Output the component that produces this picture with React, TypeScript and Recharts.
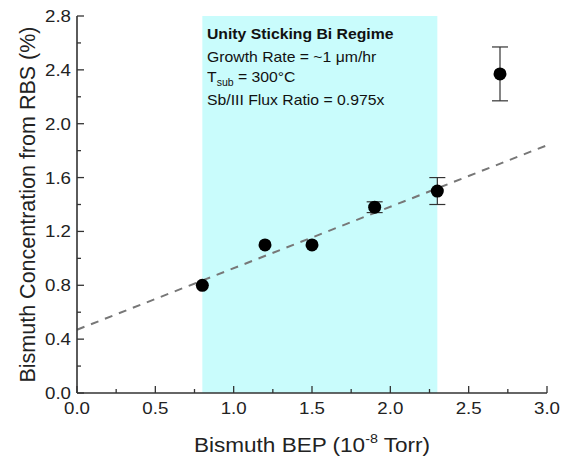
import React from "react";
import {
  ComposedChart,
  Scatter,
  ErrorBar,
  XAxis,
  YAxis,
  ReferenceArea,
  ReferenceLine,
} from "recharts";

const BEP = [0.8, 1.2, 1.5, 1.9, 2.3, 2.7];
const BI_CONC = [0.8, 1.1, 1.1, 1.38, 1.5, 2.37];
const BI_ERR = [0, 0, 0, 0.04, 0.1, 0.2];

const FIT_X = [0, 3];
const FIT_Y = [0.47, 1.84];

const UNITY_REGIME = [0.8, 2.3];

const X_TICKS = [0, 0.25, 0.5, 0.75, 1, 1.25, 1.5, 1.75, 2, 2.25, 2.5, 2.75, 3];
const X_MAJOR = [0, 0.5, 1, 1.5, 2, 2.5, 3];
const Y_TICKS = [0, 0.2, 0.4, 0.6, 0.8, 1, 1.2, 1.4, 1.6, 1.8, 2, 2.2, 2.4, 2.6, 2.8];
const Y_MAJOR = [0, 0.4, 0.8, 1.2, 1.6, 2, 2.4, 2.8];

const data = BEP.map((x, i) => ({ x, y: BI_CONC[i], err: BI_ERR[i] }));

const FONT = "'Liberation Sans', Arial, sans-serif";
const AXIS = "#333";
const STRETCH = 1.1; // the source picture is a little wider than tall

const isMajor = (list: number[], v: number) => list.some((m) => Math.abs(m - v) < 1e-6);

const BottomTick = (p: any) => {
  const major = isMajor(X_MAJOR, p.payload.value);
  return (
    <g>
      <line x1={p.x} x2={p.x} y1={p.y} y2={p.y - (major ? 7 : 4)} stroke={AXIS} strokeWidth={1.3} />
      {major && (
        <g transform={`translate(${p.x},${p.y + 21}) scale(${STRETCH},1)`}>
          <text x={0} y={0} textAnchor="middle" fontSize={17} fontFamily={FONT} fill="#222">
            {p.payload.value.toFixed(1)}
          </text>
        </g>
      )}
    </g>
  );
};

const TopTick = (p: any) => {
  const major = isMajor(X_MAJOR, p.payload.value);
  return <line x1={p.x} x2={p.x} y1={p.y} y2={p.y + (major ? 7 : 4)} stroke={AXIS} strokeWidth={1.3} />;
};

const LeftTick = (p: any) => {
  const major = isMajor(Y_MAJOR, p.payload.value);
  return (
    <g>
      <line x1={p.x} x2={p.x + (major ? 7 : 4)} y1={p.y} y2={p.y} stroke={AXIS} strokeWidth={1.3} />
      {major && (
        <g transform={`translate(${p.x - 6},${p.y + 6}) scale(${STRETCH},1)`}>
          <text x={0} y={0} textAnchor="end" fontSize={17} fontFamily={FONT} fill="#222">
            {p.payload.value.toFixed(1)}
          </text>
        </g>
      )}
    </g>
  );
};

const RightTick = (p: any) => {
  const major = isMajor(Y_MAJOR, p.payload.value);
  return <line x1={p.x} x2={p.x - (major ? 7 : 4)} y1={p.y} y2={p.y} stroke={AXIS} strokeWidth={1.3} />;
};

const XTitle = (p: any) => {
  const { x, width } = p.viewBox;
  return (
    <g transform={`translate(${x + width / 2},452) scale(${STRETCH},1)`}>
      <text x={0} y={0} textAnchor="middle" fontSize={20.5} fontFamily={FONT} fill="#222">
        Bismuth BEP (10
        <tspan fontSize={13} dy={-9}>-8</tspan>
        <tspan dy={9}> Torr)</tspan>
      </text>
    </g>
  );
};

const YTitle = (p: any) => {
  const { y, height } = p.viewBox;
  const cy = y + height / 2;
  return (
    <text
      x={28}
      y={cy}
      transform={`rotate(-90, 28, ${cy})`}
      textAnchor="middle"
      dominantBaseline="central"
      fontSize={21.5}
      fontFamily={FONT}
      fill="#222"
    >
      Bismuth Concentration from RBS (%)
    </text>
  );
};

const Dot = (p: any) => <circle cx={p.cx} cy={p.cy} r={6.5} fill="#000" />;

export default function App() {
  return (
    <div style={{ position: "absolute", left: 0, top: 0, width: 564, height: 459, background: "#fff" }}>
      <ComposedChart width={564} height={459} data={data} margin={{ top: 16, right: 17, left: 0, bottom: 0 }}>
        <ReferenceArea
          x1={UNITY_REGIME[0]}
          x2={UNITY_REGIME[1]}
          y1={0}
          y2={2.8}
          fill="#c9fcfc"
          fillOpacity={1}
          stroke="none"
        />
        <XAxis
          xAxisId={0}
          dataKey="x"
          type="number"
          domain={[0, 3]}
          ticks={X_TICKS}
          interval={0}
          height={66}
          tickSize={0}
          tickMargin={0}
          tick={<BottomTick />}
          axisLine={{ stroke: AXIS, strokeWidth: 1.6 }}
          label={<XTitle />}
        />
        <XAxis
          xAxisId="top"
          orientation="top"
          type="number"
          domain={[0, 3]}
          ticks={X_TICKS}
          interval={0}
          height={0}
          tickSize={0}
          tickMargin={0}
          tick={<TopTick />}
          axisLine={{ stroke: AXIS, strokeWidth: 1.6 }}
        />
        <YAxis
          yAxisId={0}
          type="number"
          domain={[0, 2.8]}
          ticks={Y_TICKS}
          interval={0}
          width={77}
          tickSize={0}
          tickMargin={0}
          tick={<LeftTick />}
          axisLine={{ stroke: AXIS, strokeWidth: 1.6 }}
          label={<YTitle />}
        />
        <YAxis
          yAxisId="right"
          orientation="right"
          type="number"
          domain={[0, 2.8]}
          ticks={Y_TICKS}
          interval={0}
          width={0}
          tickSize={0}
          tickMargin={0}
          tick={<RightTick />}
          axisLine={{ stroke: AXIS, strokeWidth: 1.6 }}
        />
        <ReferenceLine
          segment={[
            { x: FIT_X[0], y: FIT_Y[0] },
            { x: FIT_X[1], y: FIT_Y[1] },
          ]}
          stroke="#777"
          strokeWidth={2}
          strokeDasharray="8 7"
        />
        <Scatter dataKey="y" shape={<Dot />} isAnimationActive={false}>
          <ErrorBar dataKey="err" direction="y" width={8} stroke="#333" strokeWidth={1.2} />
        </Scatter>
      </ComposedChart>
      <div
        style={{
          position: "absolute",
          left: 207,
          top: 24,
          fontFamily: FONT,
          fontSize: 15,
          lineHeight: "20.5px",
          color: "#111",
          transform: "scale(1.05,1)",
          transformOrigin: "left top",
          whiteSpace: "nowrap",
        }}
      >
        <div style={{ fontWeight: "bold", marginBottom: 2 }}>Unity Sticking Bi Regime</div>
        <div>Growth Rate = ~1 μm/hr</div>
        <div>
          T
          <span style={{ fontSize: 10, position: "relative", top: 4 }}>sub</span> = 300°C
        </div>
        <div>Sb/III Flux Ratio = 0.975x</div>
      </div>
    </div>
  );
}
